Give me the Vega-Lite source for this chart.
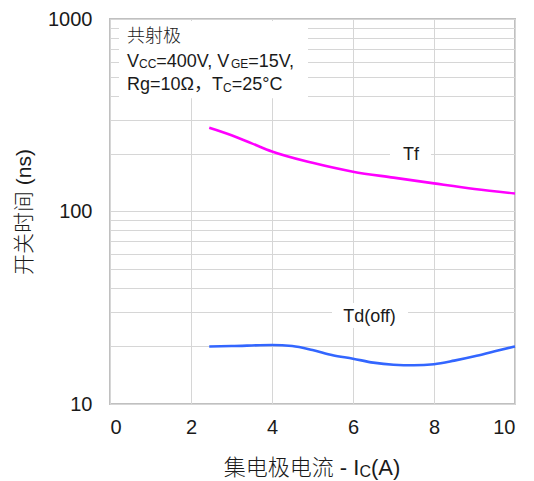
{
  "$schema": "https://vega.github.io/schema/vega-lite/v6.json",
  "width": 405,
  "height": 385,
  "autosize": {"type": "none"},
  "padding": {"left": 110, "top": 19, "right": 19, "bottom": 77},
  "background": "white",
  "config": {
    "view": {"stroke": "#c0c0c0", "strokeWidth": 2},
    "font": "Liberation Sans, Arial, Noto Sans CJK SC, sans-serif",
    "text": {"font": "Liberation Sans, Arial, Noto Sans CJK SC, sans-serif", "color": "#1a1a1a"}
  },
  "encoding": {
    "x": {
      "field": "x", "type": "quantitative",
      "scale": {"domain": [0, 10], "nice": false},
      "axis": {
        "values": [0, 2, 4, 6, 8, 10], "grid": true, "gridColor": "#d6d6d6", "gridWidth": 1,
        "ticks": false, "domain": false, "labelFontSize": 20, "labelPadding": 13,
        "labelColor": "#1a1a1a", "labelFont": "Liberation Sans, Arial, sans-serif", "title": null
      }
    },
    "y": {
      "field": "y", "type": "quantitative",
      "scale": {"type": "log", "domain": [10, 1000], "nice": false},
      "axis": {
        "values": [10, 20, 30, 40, 50, 60, 70, 80, 90, 100, 200, 300, 400, 500, 600, 700, 800, 900, 1000],
        "labelExpr": "datum.value == 10 || datum.value == 100 || datum.value == 1000 ? format(datum.value, 'd') : ''",
        "grid": true, "gridColor": "#d6d6d6", "gridWidth": 1,
        "ticks": false, "domain": false, "labelFontSize": 20, "labelPadding": 18,
        "labelColor": "#1a1a1a", "labelFont": "Liberation Sans, Arial, sans-serif",
        "title": "开关时间 (ns)", "titleFontSize": 21, "titleFontWeight": 300,
        "titleColor": "#1a1a1a", "titleFont": "Liberation Sans, Arial, Noto Sans CJK SC, sans-serif",
        "titlePadding": 13
      }
    }
  },
  "layer": [
    {
      "data": {"values": [
        {"x": 0.222, "x2": 4.889, "y": 388, "y2": 976},
        {"x": 6.914, "x2": 7.926, "y": 180.8, "y2": 218.9},
        {"x": 5.481, "x2": 7.358, "y": 24.8, "y2": 33.5}
      ]},
      "mark": {"type": "rect", "fill": "white", "strokeWidth": 0},
      "encoding": {"x2": {"field": "x2"}, "y2": {"field": "y2"}}
    },
    {
      "data": {"values": [
        {"s": "Tf", "x": 2.45, "y": 272},
        {"s": "Tf", "x": 3.0, "y": 249},
        {"s": "Tf", "x": 3.5, "y": 226},
        {"s": "Tf", "x": 4.0, "y": 205},
        {"s": "Tf", "x": 5.0, "y": 179},
        {"s": "Tf", "x": 6.0, "y": 161},
        {"s": "Tf", "x": 7.0, "y": 150},
        {"s": "Tf", "x": 8.0, "y": 140},
        {"s": "Tf", "x": 9.0, "y": 131},
        {"s": "Tf", "x": 10.0, "y": 124},
        {"s": "Td(off)", "x": 2.45, "y": 19.9},
        {"s": "Td(off)", "x": 3.0, "y": 20.0},
        {"s": "Td(off)", "x": 4.0, "y": 20.25},
        {"s": "Td(off)", "x": 4.5, "y": 20.0},
        {"s": "Td(off)", "x": 5.0, "y": 19.06},
        {"s": "Td(off)", "x": 5.5, "y": 17.9},
        {"s": "Td(off)", "x": 6.0, "y": 17.2},
        {"s": "Td(off)", "x": 6.5, "y": 16.4},
        {"s": "Td(off)", "x": 7.0, "y": 16.0},
        {"s": "Td(off)", "x": 7.5, "y": 15.9},
        {"s": "Td(off)", "x": 8.0, "y": 16.1},
        {"s": "Td(off)", "x": 8.5, "y": 16.8},
        {"s": "Td(off)", "x": 9.0, "y": 17.7},
        {"s": "Td(off)", "x": 9.5, "y": 18.8},
        {"s": "Td(off)", "x": 10.0, "y": 19.9}
      ]},
      "mark": {"type": "line", "strokeWidth": 2.6, "interpolate": "monotone"},
      "encoding": {
        "color": {"field": "s", "type": "nominal", "scale": {"domain": ["Tf", "Td(off)"], "range": ["#ff00ff", "#3366ff"]}, "legend": null}
      }
    },
    {
      "data": {"values": [
        {"x": 0.42, "y": 565, "t": "V"},
        {"x": 1.143, "y": 565, "t": "=400V, V"},
        {"x": 3.412, "y": 565, "t": "=15V,"},
        {"x": 0.42, "y": 427.7, "t": "Rg=10Ω，"},
        {"x": 2.52, "y": 427.7, "t": "T"},
        {"x": 3.005, "y": 427.7, "t": "=25°C"}
      ]},
      "mark": {"type": "text", "fontSize": 18, "align": "left", "baseline": "alphabetic"},
      "encoding": {"text": {"field": "t"}}
    },
    {
      "data": {"values": [
        {"x": 0.716, "y": 565, "t": "CC"},
        {"x": 2.985, "y": 565, "t": "GE"},
        {"x": 2.79, "y": 427.7, "t": "C"}
      ]},
      "mark": {"type": "text", "fontSize": 12, "align": "left", "baseline": "alphabetic", "dy": 1.5},
      "encoding": {"text": {"field": "t"}}
    },
    {
      "data": {"values": [
        {"x": 0.42, "y": 764, "t": "共射极"}
      ]},
      "mark": {"type": "text", "fontSize": 18, "fontWeight": 300, "align": "left", "baseline": "alphabetic", "font": "Noto Sans CJK SC"},
      "encoding": {"text": {"field": "t"}}
    },
    {
      "data": {"values": [
        {"x": 7.432, "y": 185.1, "t": "Tf"},
        {"x": 6.407, "y": 26.7, "t": "Td(off)"}
      ]},
      "mark": {"type": "text", "fontSize": 18, "align": "center", "baseline": "alphabetic"},
      "encoding": {"text": {"field": "t"}}
    },
    {
      "data": {"values": [
        {"x": 6.158, "y": 4.277, "t": "集电极电流 - I"}
      ]},
      "mark": {"type": "text", "fontSize": 22, "fontWeight": 300, "align": "right", "baseline": "alphabetic"},
      "encoding": {"text": {"field": "t"}}
    },
    {
      "data": {"values": [
        {"x": 6.158, "y": 4.277, "t": "C"}
      ]},
      "mark": {"type": "text", "fontSize": 16, "align": "left", "baseline": "alphabetic", "dy": 1.5},
      "encoding": {"text": {"field": "t"}}
    },
    {
      "data": {"values": [
        {"x": 6.444, "y": 4.277, "t": "(A)"}
      ]},
      "mark": {"type": "text", "fontSize": 22, "align": "left", "baseline": "alphabetic"},
      "encoding": {"text": {"field": "t"}}
    }
  ]
}
